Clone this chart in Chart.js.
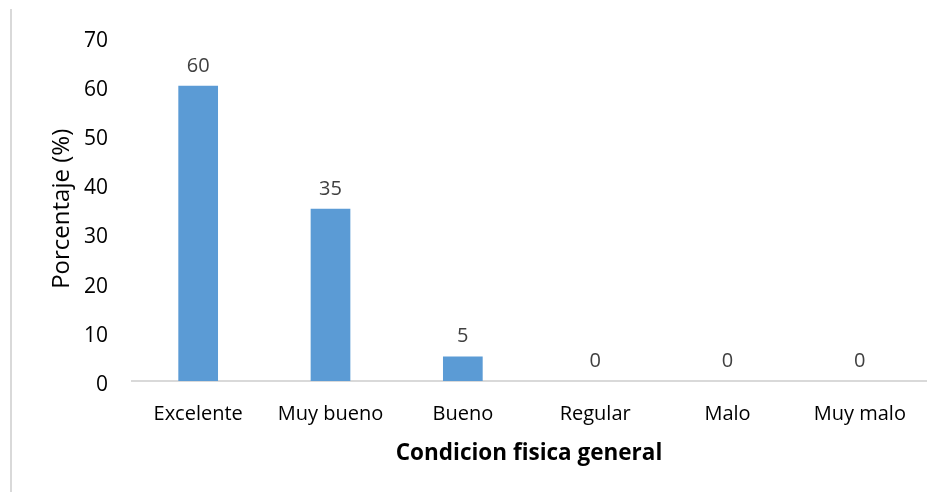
<!DOCTYPE html>
<html>
<head>
<meta charset="utf-8">
<script src="https://cdn.jsdelivr.net/npm/chart.js@4.4.0/dist/chart.umd.min.js"></script>
<style>
  html, body { margin: 0; padding: 0; background: #fff; }
  #wrap { position: relative; width: 943px; height: 492px; }
  #edge { position: absolute; left: 10px; top: 9px; bottom: 0; width: 2px; background: #d9d9d9; }
</style>
</head>
<body>
<div id="wrap">
  <canvas id="chart" width="943" height="492"></canvas>
  <div id="edge"></div>
</div>
<script>
// datos del grafico
const categorias = ['Excelente', 'Muy bueno', 'Bueno', 'Regular', 'Malo', 'Muy malo'];
const porcentajes = [60, 35, 5, 0, 0, 0];
const yMin = 0;
const yMax = 70;
const yPaso = 10;

const fuente = "'Open Sans', 'Noto Sans', sans-serif";

// etiquetas de valor encima de cada barra
const etiquetasBarras = {
    id: 'etiquetasBarras',
    afterDatasetsDraw(chart) {
        const ctx = chart.ctx;
        const meta = chart.getDatasetMeta(0);
        ctx.save();
        ctx.font = '20px ' + fuente;
        ctx.fillStyle = '#404040';
        ctx.textAlign = 'center';
        ctx.textBaseline = 'alphabetic';
        meta.data.forEach((bar, i) => {
            ctx.fillText(String(porcentajes[i]), bar.x, bar.y - 14);
        });
        ctx.restore();
    }
};

Chart.defaults.font.family = fuente;

new Chart(document.getElementById('chart'), {
    type: 'bar',
    data: {
        labels: categorias,
        datasets: [{
            data: porcentajes,
            backgroundColor: '#5b9bd5',
            barPercentage: 0.3,
            categoryPercentage: 1
        }]
    },
    options: {
        responsive: false,
        animation: false,
        layout: { padding: { top: 36, right: 17, bottom: 18, left: 40 } },
        plugins: { legend: { display: false }, tooltip: { enabled: false } },
        scales: {
            x: {
                grid: { display: false, drawTicks: false },
                border: { display: true, color: '#d9d9d9', width: 2 },
                ticks: { color: '#000', font: { size: 20 }, padding: 21, maxRotation: 0 },
                title: {
                    display: true,
                    text: 'Condicion fisica general',
                    color: '#000',
                    font: { size: 22.5, weight: 'bold' },
                    padding: { top: 0, bottom: 7 }
                },
                afterFit: (s) => { s.height = 93; }
            },
            y: {
                min: yMin,
                max: yMax,
                grid: { display: false, drawTicks: false },
                border: { display: false },
                ticks: { stepSize: yPaso, color: '#000', font: { size: 21 }, padding: 24, labelOffset: 4 },
                title: {
                    display: true,
                    text: 'Porcentaje (%)',
                    color: '#000',
                    font: { size: 24 },
                    padding: { top: 8, bottom: 0 }
                },
                afterFit: (s) => { s.width = 92; }
            }
        }
    },
    plugins: [etiquetasBarras]
});
</script>
</body>
</html>
